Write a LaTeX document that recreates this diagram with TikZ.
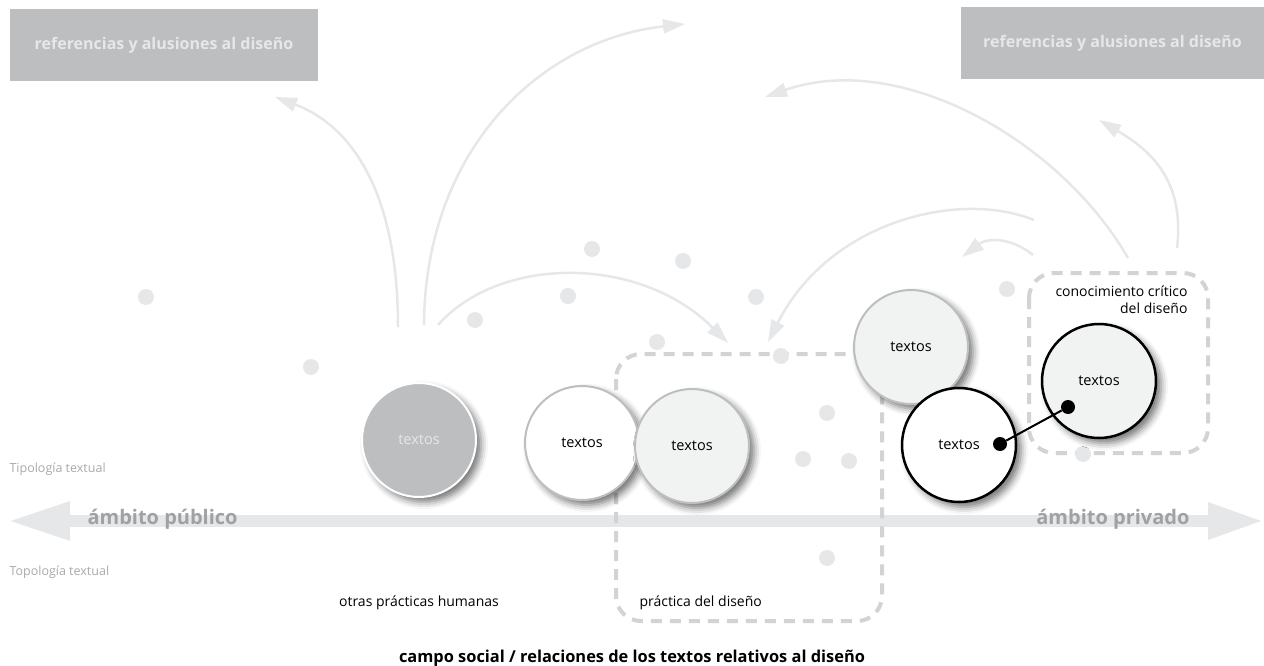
\documentclass[tikz,border=0pt]{standalone}
\usepackage{fontspec}
\setmainfont{Open Sans}
\usepackage{tikz}
\usetikzlibrary{arrows.meta,shadows.blur}

\definecolor{boxgray}{HTML}{BCBEC0}
\definecolor{palegray}{HTML}{E6E7E8}
\definecolor{dashgray}{HTML}{D1D3D4}
\definecolor{labelgray}{HTML}{A7A9AC}
\definecolor{axisgray}{HTML}{9FA1A4}
\definecolor{fillgray}{HTML}{F1F2F2}

\begin{document}
\begin{tikzpicture}[x=1pt,y=-1pt,
    refbox/.style={fill=boxgray,text=palegray,inner sep=0pt,
        font=\fontsize{16}{19}\selectfont\bfseries},
    flow/.style={draw=palegray,line width=2.5pt,
        -{Triangle[length=22pt,width=14pt]}},
    zone/.style={draw=dashgray,line width=4pt,rounded corners=25pt,
        dash pattern=on 11pt off 8pt},
    spot/.style={circle,fill=palegray,minimum size=16pt,inner sep=0pt},
    textos/.style={circle,minimum size=114pt,inner sep=0pt,line width=2pt,
        font=\fontsize{14.5}{17}\selectfont,
        blur shadow={shadow xshift=5pt,shadow yshift=-5pt,
            shadow blur radius=7pt,shadow opacity=55}},
    label/.style={font=\fontsize{14}{17}\selectfont},
    side/.style={text=labelgray,font=\fontsize{12.5}{15}\selectfont,anchor=west},
    scope/.style={text=axisgray,font=\fontsize{20}{24}\selectfont\bfseries}]

\useasboundingbox (0,0) rectangle (1264,666);

% Header boxes
\node[refbox,minimum width=308pt,minimum height=72pt] (refL) at (164,45)
    {referencias y alusiones al diseño};
\node[refbox,minimum width=303pt,minimum height=72pt] (refR) at (1112.5,43)
    {referencias y alusiones al diseño};

% Public / private axis
\coordinate (pubEnd) at (8,521);
\coordinate (privEnd) at (1264,521);
\draw[palegray,line width=12pt,
    {Triangle[length=62pt,width=36pt]}-{Triangle[length=56pt,width=34pt]}]
    (pubEnd) -- (privEnd);
\node[scope,anchor=west] (publico) at (84,519) {ámbito público};
\node[scope,anchor=east] (privado) at (1193,519) {ámbito privado};
\node[side] (tipo) at (6,469) {Tipología textual};
\node[side] (topo) at (6,572) {Topología textual};

% Fields
\draw[zone] (616,354) rectangle (882,621);
\draw[zone] (1029,273) rectangle (1208,453);

% Scattered points
\foreach \x/\y [count=\i] in {146/297, 311/367, 475/320, 568/296, 592/249,
    683/261, 657/342, 756/297, 781/356, 827/413, 803/459, 849/461,
    827/558, 1007/289, 1083/454}
    \node[spot] (p\i) at (\x,\y) {};

% Flows of references
\coordinate (s1) at (398,327);  \coordinate (e1) at (275,97);
\coordinate (s2) at (424,325);  \coordinate (e2) at (685,24);
\coordinate (s3) at (438,325);  \coordinate (e3) at (728,343);
\coordinate (s4) at (1128,258); \coordinate (e4) at (765,97);
\coordinate (s5) at (1177,248); \coordinate (e5) at (1099,120);
\coordinate (s6) at (1034,220); \coordinate (e6) at (768,342);
\coordinate (s7) at (1033,255); \coordinate (e7) at (962,257);
\draw[flow] (s1) .. controls (398,190) and (350,125) .. (e1);
\draw[flow] (s2) .. controls (425,150) and (540,40) .. (e2);
\draw[flow] (s3) .. controls (500,255) and (640,255) .. (e3);
\draw[flow] (s4) .. controls (1060,140) and (900,50) .. (e4);
\draw[flow] (s5) .. controls (1185,180) and (1150,150) .. (e5);
\draw[flow] (s6) .. controls (960,190) and (830,220) .. (e6);
\draw[flow] (s7) .. controls (1015,240) and (990,236) .. (e7);

% Texts
\node[textos,fill=boxgray,draw=white,text=palegray] (t1) at (419,440) {textos};
\node[textos,fill=white,draw=boxgray] (t2) at (582,443) {textos};
\node[textos,fill=fillgray,draw=boxgray] (t3) at (692,446) {textos};
\node[textos,fill=fillgray,draw=boxgray] (t4) at (911,347) {textos};
\node[textos,fill=white,draw=black,line width=2.5pt] (t5) at (959,445) {textos};
\node[textos,fill=fillgray,draw=black,line width=2.5pt] (t6) at (1099,381) {textos};

% Link between texts
\node[circle,fill=black,minimum size=14pt,inner sep=0pt] (k1) at (1000,444) {};
\node[circle,fill=black,minimum size=14pt,inner sep=0pt] (k2) at (1068,407) {};
\draw[line width=2pt] (k1) -- (k2);

% Field names
\node[label,align=right,anchor=north east] (critico) at (1191,282)
    {conocimiento crítico\\del diseño};
\node[label] (otras) at (419,603) {otras prácticas humanas};
\node[label,anchor=west] (practica) at (636,603) {práctica del diseño};
\node[font=\fontsize{16.4}{19}\selectfont\bfseries] (campo) at (632,658)
    {campo social / relaciones de los textos relativos al diseño};
\end{tikzpicture}
\end{document}
